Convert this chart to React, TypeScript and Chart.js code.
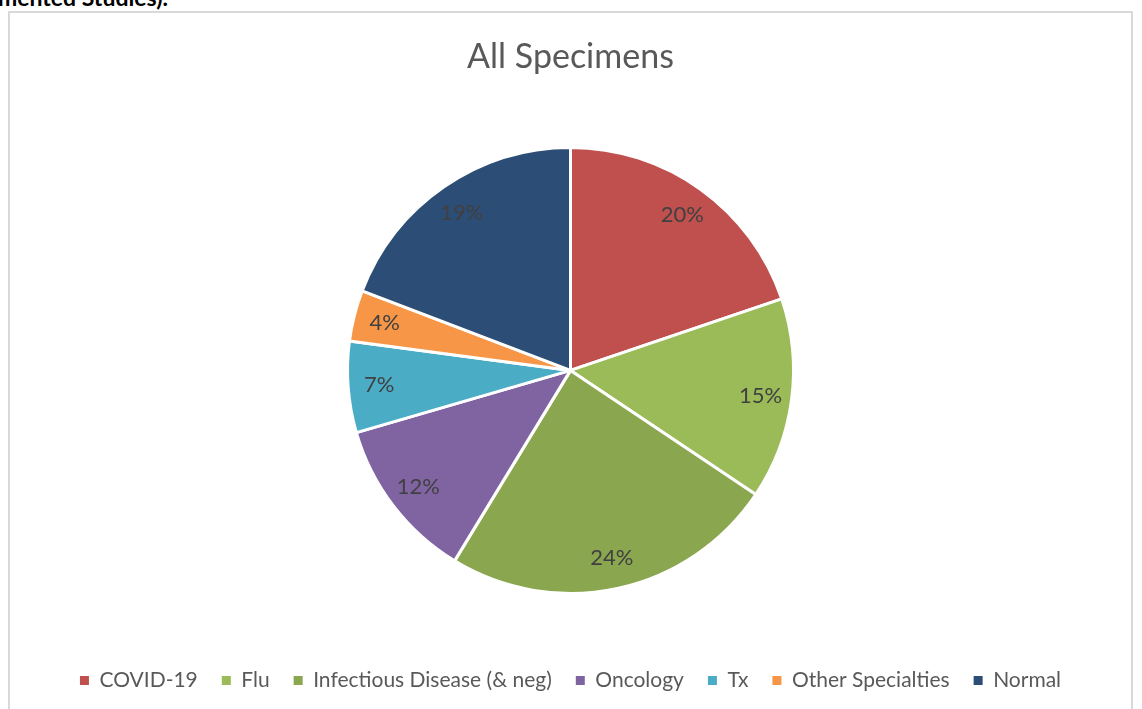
import React, { useEffect, useRef } from "react";
import { Chart, registerables } from "chart.js";

Chart.register(...registerables);

const chartTitle = "All Specimens";
const categories = [
  "COVID-19",
  "Flu",
  "Infectious Disease (& neg)",
  "Oncology",
  "Tx",
  "Other Specialties",
  "Normal",
];
const shares = [19.8, 14.6, 24.3, 11.8, 6.6, 3.7, 19.2];
const sliceColors = [
  "#c0504d",
  "#9bbb59",
  "#8aa64e",
  "#8064a2",
  "#4bacc6",
  "#f79646",
  "#2c4d75",
];

const FONT = "Lato, 'Open Sans', sans-serif";

const pctLabels = {
  id: "pctLabels",
  afterDatasetsDraw(chart: any) {
    const meta = chart.getDatasetMeta(0);
    const data = chart.data.datasets[0].data as number[];
    const total = data.reduce((a, b) => a + b, 0);
    const ctx = chart.ctx;
    ctx.save();
    ctx.font = `22px ${FONT}`;
    ctx.fillStyle = "#404040";
    ctx.textAlign = "center";
    ctx.textBaseline = "middle";
    meta.data.forEach((arc: any, i: number) => {
      const { x, y, startAngle, endAngle, outerRadius } = arc.getProps(
        ["x", "y", "startAngle", "endAngle", "outerRadius"],
        true
      );
      const mid = (startAngle + endAngle) / 2;
      const r = outerRadius * 0.86;
      const txt = Math.round((data[i] / total) * 100) + "%";
      ctx.fillText(txt, x + Math.cos(mid) * r, y + Math.sin(mid) * r);
    });
    ctx.restore();
  },
};

export default function App() {
  const canvasRef = useRef<HTMLCanvasElement | null>(null);

  useEffect(() => {
    if (!canvasRef.current) return;
    const chart = new Chart(canvasRef.current, {
      type: "pie",
      data: {
        labels: categories,
        datasets: [
          {
            data: shares,
            backgroundColor: sliceColors,
            borderColor: "#ffffff",
            borderWidth: 3,
          },
        ],
      },
      options: {
        responsive: false,
        maintainAspectRatio: false,
        animation: false,
        radius: 223,
        layout: { padding: { bottom: 8 } },
        plugins: {
          tooltip: { enabled: false },
          title: {
            display: true,
            text: chartTitle,
            color: "#595959",
            font: { family: FONT, size: 34, weight: "normal" },
            padding: { top: 24, bottom: 17 },
          },
          legend: {
            position: "bottom",
            labels: {
              color: "#595959",
              font: { family: FONT, size: 21 },
              boxWidth: 9,
              boxHeight: 9,
              padding: 24,
              generateLabels(chart: any) {
                const base = (Chart as any).overrides.pie.plugins.legend.labels.generateLabels(chart);
                return base.map((it: any) => ({ ...it, lineWidth: 0, strokeStyle: "transparent" }));
              },
            },
          },
        },
      },
      plugins: [pctLabels],
    });
    return () => chart.destroy();
  }, []);

  return (
    <div
      style={{
        position: "fixed",
        left: 0,
        top: 0,
        width: 1142,
        height: 709,
        overflow: "hidden",
        background: "#ffffff",
      }}
    >
      <div
        style={{
          position: "absolute",
          left: -2,
          top: -17,
          fontFamily: FONT,
          fontWeight: 700,
          fontSize: 23,
          color: "#000000",
          whiteSpace: "nowrap",
        }}
      >
        mented Studies).
      </div>
      <div
        style={{
          position: "absolute",
          left: 8,
          top: 11,
          width: 1125,
          height: 720,
          border: "2px solid #d9d9d9",
          boxSizing: "border-box",
        }}
      >
        <canvas
          ref={canvasRef}
          width={1121}
          height={696}
          style={{ position: "absolute", left: 0, top: 0, width: 1121, height: 696 }}
        />
      </div>
    </div>
  );
}
